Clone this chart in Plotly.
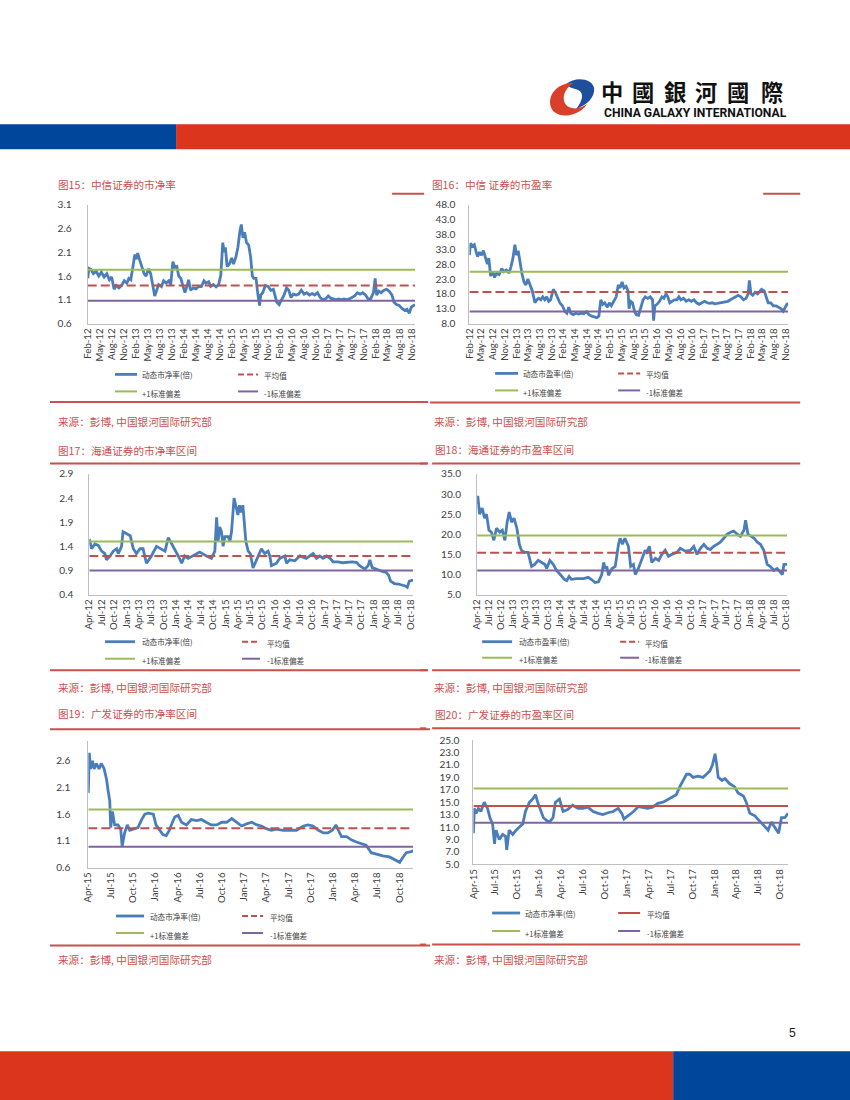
import plotly.graph_objects as go
import pandas as pd
import numpy as np

W, H = 850, 1100
# the photographed page shows the figure inset by ~6px and scaled by ~0.988; compensate
OFF, SC = 6.0, 0.988
def X(p): return ((p - OFF) / SC) / W
def Y(p): return 1 - ((p - OFF) / SC) / H
def F(s): return s / SC

# ---------------- DATA ----------------
# Fig15 CITIC Securities P/B
c15_dates = ["2012-02-01","2012-02-10","2012-02-25","2012-03-15","2012-04-05","2012-04-25","2012-05-15","2012-06-05","2012-06-25","2012-07-15","2012-08-01","2012-08-20","2012-09-05","2012-09-25","2012-10-15","2012-11-05","2012-11-25","2012-12-10","2012-12-25",
 "2013-01-10","2013-01-25","2013-02-05","2013-02-15","2013-03-01","2013-03-20","2013-04-05","2013-04-20","2013-05-10","2013-05-25","2013-06-10","2013-06-25","2013-07-10","2013-07-25","2013-08-15","2013-09-01","2013-09-20","2013-10-10","2013-10-25","2013-11-10","2013-11-25","2013-12-10","2013-12-25",
 "2014-01-10","2014-01-25","2014-02-10","2014-02-25","2014-03-10","2014-03-25","2014-04-15","2014-05-05","2014-05-25","2014-06-15","2014-07-05","2014-07-20","2014-08-10","2014-08-25","2014-09-15","2014-10-05","2014-10-25","2014-11-10","2014-11-25","2014-12-05","2014-12-15","2014-12-28",
 "2015-01-15","2015-02-01","2015-02-15","2015-03-05","2015-03-20","2015-04-05","2015-04-15","2015-04-28","2015-05-10","2015-05-25","2015-06-10","2015-06-25","2015-07-08","2015-07-20","2015-08-05","2015-08-20","2015-09-01","2015-09-10","2015-09-25","2015-10-15","2015-11-05","2015-11-25","2015-12-15",
 "2016-01-10","2016-01-28","2016-02-15","2016-03-05","2016-03-25","2016-04-10","2016-04-28","2016-05-15","2016-06-05","2016-06-25","2016-07-15","2016-08-05","2016-08-25","2016-09-15","2016-10-05","2016-10-25","2016-11-15","2016-12-05","2016-12-25",
 "2017-01-15","2017-02-05","2017-02-25","2017-03-15","2017-04-05","2017-04-25","2017-05-15","2017-06-05","2017-06-25","2017-07-15","2017-08-05","2017-08-25","2017-09-15","2017-10-05","2017-10-25","2017-11-15","2017-12-05","2017-12-25",
 "2018-01-15","2018-01-28","2018-02-08","2018-02-25","2018-03-15","2018-04-05","2018-04-25","2018-05-15","2018-06-05","2018-06-20","2018-07-10","2018-07-30","2018-08-20","2018-09-10","2018-09-28","2018-10-15","2018-10-30","2018-11-15","2018-11-28"]
c15_vals = [1.55,1.76,1.74,1.65,1.70,1.60,1.68,1.58,1.65,1.52,1.58,1.32,1.40,1.35,1.40,1.50,1.45,1.55,1.52,
 1.80,2.05,1.95,2.08,1.95,1.80,1.65,1.60,1.75,1.65,1.40,1.18,1.30,1.42,1.38,1.50,1.45,1.50,1.42,1.90,1.78,1.80,1.60,
 1.55,1.40,1.25,1.38,1.52,1.30,1.35,1.33,1.38,1.38,1.50,1.45,1.48,1.38,1.42,1.37,1.42,1.62,2.30,2.10,2.20,1.80,
 1.85,1.98,1.85,2.00,2.20,2.55,2.68,2.40,2.52,2.30,2.25,2.00,1.60,1.55,1.55,1.20,0.98,1.20,1.25,1.40,1.38,1.30,1.32,
 1.05,1.00,1.10,1.20,1.35,1.30,1.15,1.22,1.20,1.22,1.30,1.22,1.25,1.20,1.23,1.20,1.25,1.15,1.10,
 1.12,1.18,1.13,1.12,1.10,1.12,1.10,1.12,1.10,1.12,1.15,1.18,1.25,1.22,1.25,1.20,1.12,1.12,
 1.25,1.55,1.20,1.28,1.25,1.30,1.32,1.28,1.20,1.05,1.00,0.98,0.92,0.88,0.90,0.82,0.95,0.97,1.00]
c15_mean, c15_plus, c15_minus = 1.40, 1.73, 1.08
c15_ticks = ("2012-02-01", "2018-11-01")

# Fig16 CITIC Securities P/E
c16_dates = ["2012-02-01","2012-02-10","2012-02-25","2012-03-10","2012-03-25","2012-04-05","2012-04-20","2012-05-05","2012-05-20","2012-06-05","2012-06-20","2012-07-01","2012-07-15","2012-08-01","2012-08-15","2012-09-01","2012-09-20","2012-10-10","2012-10-25","2012-11-15","2012-12-05","2012-12-20",
 "2013-01-05","2013-01-20","2013-02-01","2013-02-15","2013-03-01","2013-03-15","2013-04-01","2013-04-15","2013-05-01","2013-05-20","2013-06-05","2013-06-25","2013-07-10","2013-07-25","2013-08-10","2013-08-25","2013-09-10","2013-09-25","2013-10-10","2013-10-25","2013-11-15","2013-12-01","2013-12-15",
 "2014-01-05","2014-01-25","2014-02-15","2014-03-01","2014-03-15","2014-04-01","2014-04-20","2014-05-10","2014-06-01","2014-06-20","2014-07-10","2014-08-01","2014-08-20","2014-09-10","2014-10-01","2014-10-20","2014-11-05","2014-11-20","2014-12-05","2014-12-20",
 "2015-01-10","2015-01-25","2015-02-10","2015-03-01","2015-03-20","2015-04-05","2015-04-20","2015-05-05","2015-05-20","2015-06-05","2015-06-20","2015-06-28","2015-07-10","2015-07-25","2015-08-10","2015-08-25","2015-09-10","2015-09-25","2015-10-15","2015-11-01","2015-11-20","2015-12-10","2015-12-28",
 "2016-01-05","2016-01-15","2016-02-01","2016-02-20","2016-03-10","2016-03-25","2016-04-10","2016-04-25","2016-05-10","2016-05-25","2016-06-15","2016-07-05","2016-07-20","2016-08-05","2016-08-25","2016-09-15","2016-10-05","2016-10-25","2016-11-15","2016-12-05","2016-12-25",
 "2017-01-15","2017-02-05","2017-02-25","2017-03-15","2017-04-05","2017-04-25","2017-05-15","2017-06-05","2017-06-25","2017-07-15","2017-08-05","2017-08-25","2017-09-15","2017-10-05","2017-10-25","2017-11-15","2017-12-05","2017-12-25",
 "2018-01-10","2018-01-20","2018-02-01","2018-02-15","2018-03-05","2018-03-25","2018-04-10","2018-04-25","2018-05-15","2018-06-01","2018-06-15","2018-07-05","2018-07-25","2018-08-15","2018-09-05","2018-09-25","2018-10-10","2018-10-25","2018-11-08","2018-11-18"]
c16_vals = [31.0,35.0,34.0,34.5,32.0,30.5,32.0,31.0,32.5,30.0,28.0,30.0,24.0,25.5,23.5,25.0,24.5,26.5,25.5,26.0,25.0,27.0,
 30.0,34.5,31.0,32.5,28.0,25.0,22.0,21.0,23.0,20.5,19.0,15.0,16.0,16.5,16.0,17.0,16.0,17.0,15.5,16.0,19.5,18.5,17.0,
 15.0,14.0,12.0,11.5,13.5,11.5,11.0,11.5,11.2,11.5,11.3,12.0,11.0,10.5,10.2,10.0,10.5,16.0,14.5,15.0,
 13.5,15.0,14.0,15.5,17.0,21.0,20.0,22.0,20.0,20.5,19.0,13.0,15.5,15.0,12.0,11.0,10.8,13.0,16.0,17.0,16.5,17.0,16.0,
 9.0,14.0,14.5,15.5,17.0,16.5,18.0,17.0,15.0,15.5,16.0,16.0,17.0,16.0,16.5,15.5,16.0,15.5,16.0,15.0,14.5,
 15.0,15.5,15.0,14.8,15.0,14.7,14.8,15.0,15.0,15.2,15.5,16.0,16.5,17.0,17.5,17.0,16.0,16.5,
 18.0,22.5,18.0,17.5,18.5,18.0,19.0,19.5,19.0,17.0,15.0,15.0,14.0,14.0,13.5,13.0,12.2,13.5,14.5,14.8]
c16_mean, c16_plus, c16_minus = 18.6, 25.4, 12.1
c16_ticks = ("2012-02-01", "2018-11-01")

# Fig17 Haitong Securities P/B
c17_dates = ["2012-04-01","2012-04-18","2012-05-12","2012-06-06","2012-07-01","2012-07-25","2012-08-06","2012-09-01","2012-09-25","2012-10-20","2012-11-01","2012-11-25","2012-12-06",
 "2013-01-02","2013-01-28","2013-02-20","2013-03-15","2013-04-10","2013-05-03","2013-05-15","2013-05-28","2013-06-15","2013-07-03","2013-08-10","2013-09-15","2013-10-12","2013-11-05","2013-12-01","2013-12-25",
 "2014-01-18","2014-02-12","2014-03-06","2014-04-01","2014-05-06","2014-06-25","2014-08-15","2014-09-20","2014-10-15","2014-10-28","2014-11-08","2014-11-20","2014-12-03","2014-12-15","2014-12-28",
 "2015-01-22","2015-02-03","2015-02-15","2015-03-06","2015-03-22","2015-04-03","2015-04-15","2015-04-28","2015-05-10","2015-06-01","2015-06-18","2015-07-04","2015-07-24","2015-08-18","2015-09-24","2015-10-18","2015-11-12","2015-11-25","2015-12-07",
 "2016-01-13","2016-02-06","2016-03-15","2016-03-27","2016-04-20","2016-05-28","2016-07-03","2016-08-20","2016-10-10","2016-11-03","2016-11-28","2016-12-22",
 "2017-01-18","2017-02-12","2017-03-06","2017-04-10","2017-05-15","2017-06-20","2017-07-25","2017-08-25","2017-09-18","2017-10-15","2017-10-28","2017-11-20","2017-12-03","2017-12-20",
 "2018-01-15","2018-02-10","2018-03-05","2018-04-03","2018-04-20","2018-05-05","2018-06-01","2018-07-01","2018-07-25","2018-08-20","2018-09-05","2018-09-20","2018-10-18"]
c17_vals = [1.55,1.35,1.45,1.42,1.30,1.25,1.12,1.20,1.30,1.35,1.25,1.40,1.70,
 1.65,1.62,1.35,1.25,1.35,1.35,1.20,1.05,1.12,1.20,1.40,1.35,1.30,1.58,1.45,1.30,
 1.20,1.05,1.20,1.15,1.20,1.28,1.20,1.15,1.30,2.00,1.50,1.80,1.70,1.40,1.60,
 1.60,1.50,1.70,2.40,2.20,2.05,2.25,2.10,2.25,1.50,1.30,1.25,0.95,1.10,1.35,1.25,1.30,1.20,1.00,
 1.05,1.15,1.20,1.05,1.12,1.10,1.20,1.15,1.25,1.15,1.20,1.15,
 1.20,1.15,1.08,1.08,1.06,1.07,1.08,1.07,1.00,0.95,0.93,1.00,1.12,0.96,
 0.93,0.90,0.88,0.86,0.80,0.68,0.63,0.62,0.60,0.58,0.55,0.68,0.70]
c17_mean, c17_plus, c17_minus = 1.20, 1.50, 0.90
c17_ticks = ("2012-04-01", "2018-10-01")

# Fig18 Haitong Securities P/E
c18_dates = ["2012-04-01","2012-04-06","2012-04-20","2012-05-10","2012-05-28","2012-06-12","2012-07-01","2012-07-20","2012-08-08","2012-08-28","2012-09-22","2012-10-12","2012-11-01","2012-11-18","2012-12-04","2012-12-22",
 "2013-01-10","2013-02-01","2013-02-20","2013-03-08","2013-04-03","2013-04-28","2013-05-25","2013-06-18","2013-07-15","2013-08-10","2013-09-05","2013-09-18","2013-10-13","2013-11-08","2013-12-03",
 "2014-01-01","2014-02-01","2014-02-20","2014-03-10","2014-03-28","2014-05-06","2014-06-28","2014-08-04","2014-09-01","2014-09-25","2014-10-22","2014-11-16","2014-12-01","2014-12-12","2014-12-25",
 "2015-01-07","2015-02-03","2015-02-28","2015-03-25","2015-04-06","2015-04-24","2015-05-13","2015-06-09","2015-06-27","2015-07-18","2015-08-01","2015-08-25","2015-09-20","2015-10-16","2015-10-28","2015-11-18","2015-12-06",
 "2016-01-03","2016-01-28","2016-02-22","2016-03-18","2016-04-13","2016-05-08","2016-06-16","2016-07-12","2016-08-20","2016-09-28","2016-10-24","2016-11-18","2016-12-15",
 "2017-01-10","2017-02-05","2017-03-01","2017-03-26","2017-04-22","2017-05-16","2017-06-12","2017-07-07","2017-08-03","2017-08-28","2017-09-24","2017-10-18","2017-11-14","2017-11-27","2017-12-15",
 "2018-01-04","2018-02-01","2018-02-25","2018-03-21","2018-04-16","2018-05-12","2018-06-06","2018-07-03","2018-07-28","2018-08-24","2018-09-06","2018-09-18","2018-10-13"]
c18_vals = [27.5,29.5,25.0,26.5,24.0,25.0,21.0,20.5,18.5,21.5,20.5,21.0,18.5,23.0,25.5,23.0,
 24.0,21.5,17.5,16.0,15.5,15.5,12.0,12.5,13.5,13.0,12.5,11.5,13.5,12.5,11.0,
 10.0,8.8,8.5,9.5,8.8,9.0,9.0,9.3,8.7,8.0,8.2,10.0,13.0,11.5,12.0,
 9.8,11.5,12.0,17.5,19.0,17.5,19.0,17.0,12.0,12.5,10.0,11.5,14.0,16.0,15.5,17.0,13.0,
 14.0,13.5,15.0,16.0,14.5,15.0,15.5,16.5,15.8,16.0,17.0,15.0,16.5,
 17.5,16.5,16.2,17.0,17.5,18.0,19.0,20.0,20.5,20.8,20.0,19.5,21.0,23.5,20.0,
 19.5,19.0,18.0,17.5,16.0,12.5,12.0,11.0,11.5,10.5,10.0,12.5,12.5]
c18_mean, c18_plus, c18_minus = 15.4, 19.7, 11.0
c18_ticks = ("2012-04-01", "2018-10-01")

# Fig19 GF Securities P/B
c19_dates = ["2015-04-01","2015-04-05","2015-04-10","2015-04-18","2015-04-25","2015-05-04","2015-05-15","2015-05-24","2015-06-05","2015-06-15","2015-06-21","2015-06-28","2015-07-02","2015-07-09","2015-07-18","2015-08-01","2015-08-12","2015-08-18","2015-08-28","2015-09-08","2015-09-18","2015-10-09","2015-10-22","2015-11-06","2015-11-19","2015-12-03","2015-12-24",
 "2016-01-04","2016-01-18","2016-02-01","2016-02-15","2016-02-28","2016-03-07","2016-03-21","2016-04-04","2016-04-18","2016-05-08","2016-05-28","2016-06-18","2016-07-09","2016-07-28","2016-08-18","2016-09-09","2016-10-01","2016-10-20","2016-11-10","2016-12-01","2016-12-21",
 "2017-01-10","2017-02-01","2017-02-21","2017-03-12","2017-04-01","2017-04-22","2017-05-13","2017-06-09","2017-07-06","2017-08-03","2017-09-01","2017-09-19","2017-10-10","2017-11-01","2017-11-22","2017-12-10","2017-12-28",
 "2018-01-12","2018-01-22","2018-02-04","2018-02-25","2018-03-16","2018-04-06","2018-04-25","2018-05-16","2018-06-06","2018-06-27","2018-07-24","2018-08-20","2018-09-10","2018-10-01","2018-10-15","2018-10-28","2018-11-18","2018-11-25"]
c19_vals = [2.00,2.75,2.45,2.60,2.45,2.55,2.45,2.55,2.45,2.25,2.05,1.85,1.35,1.65,1.40,1.40,1.32,1.00,1.25,1.40,1.30,1.33,1.35,1.50,1.60,1.62,1.60,
 1.40,1.30,1.22,1.20,1.30,1.40,1.55,1.58,1.45,1.40,1.50,1.48,1.50,1.45,1.40,1.40,1.45,1.45,1.52,1.45,1.38,
 1.42,1.45,1.40,1.38,1.33,1.30,1.32,1.30,1.30,1.30,1.38,1.40,1.38,1.30,1.25,1.25,1.30,
 1.40,1.30,1.18,1.18,1.12,1.08,1.05,1.02,0.88,0.85,0.82,0.80,0.75,0.70,0.80,0.88,0.90,0.92]
c19_mean, c19_plus, c19_minus = 1.34, 1.69, 0.99
c19_ticks = ("2015-04-01", "2018-10-01")

# Fig20 GF Securities P/E
c20_dates = ["2015-04-01","2015-04-05","2015-04-12","2015-04-22","2015-05-02","2015-05-16","2015-05-30","2015-06-09","2015-06-20","2015-06-28","2015-07-04","2015-07-18","2015-08-01","2015-08-13","2015-08-18","2015-08-28","2015-09-12","2015-09-26","2015-10-10","2015-10-24","2015-11-04","2015-11-21","2015-12-04","2015-12-16","2015-12-25",
 "2016-01-04","2016-01-18","2016-02-02","2016-02-13","2016-02-27","2016-03-08","2016-03-25","2016-04-09","2016-04-28","2016-05-19","2016-06-10","2016-07-01","2016-07-22","2016-08-12","2016-09-03","2016-09-22","2016-10-13","2016-11-04","2016-11-25","2016-12-10","2016-12-19",
 "2017-01-06","2017-01-28","2017-02-17","2017-03-07","2017-03-28","2017-04-18","2017-05-09","2017-05-31","2017-06-21","2017-07-12","2017-07-25","2017-08-09","2017-08-22","2017-09-06","2017-09-19","2017-10-03","2017-10-24","2017-11-14","2017-11-28","2017-12-12","2017-12-23",
 "2018-01-03","2018-01-10","2018-01-16","2018-02-01","2018-02-13","2018-03-04","2018-03-25","2018-04-09","2018-05-01","2018-05-13","2018-05-28","2018-06-18","2018-07-08","2018-07-28","2018-08-12","2018-08-26","2018-09-10","2018-09-25","2018-10-07","2018-10-21","2018-11-04"]
c20_vals = [10.0,14.0,13.2,14.0,13.5,15.0,14.0,12.5,11.5,8.3,10.5,9.0,9.8,9.5,7.3,10.5,9.8,10.5,11.0,11.5,13.5,15.0,15.5,16.2,15.0,
 13.8,12.5,12.0,11.8,12.5,15.0,15.5,13.5,13.8,14.5,14.0,14.0,14.2,13.5,13.2,13.0,13.3,13.5,14.0,13.2,12.3,
 12.8,13.5,14.3,14.2,14.0,14.2,14.8,15.0,15.5,16.0,16.2,17.5,18.5,19.5,19.5,19.0,19.2,19.0,19.5,20.0,21.0,
 22.8,21.0,19.0,18.5,18.8,18.0,17.5,16.5,16.0,15.0,13.2,12.8,12.0,11.2,10.5,11.8,11.0,10.0,12.5,12.5,13.2]
c20_mean, c20_plus, c20_minus = 14.4, 17.2, 11.7
c20_ticks = ("2015-04-01", "2018-10-01")

titles = ["图15：中信证券的市净率", "图16：中信 证券的市盈率", "图17：海通证券的市净率区间",
          "图18：海通证券的市盈率区间", "图19：广发证券的市净率区间", "图20：广发证券的市盈率区间"]
series_names = ["动态市净率(倍)", "动态市盈率(倍)", "动态市净率(倍)", "动态市盈率(倍)", "动态市净率(倍)", "动态市净率(倍)"]
legend_other = ["平均值", "+1标准偏差", "-1标准偏差"]
source_text = "来源：彭博, 中国银河国际研究部"

# ---------------- STYLE / LAYOUT ----------------
BLUE, RED, GREEN, PURPLE = "#4a7ebb", "#c0504d", "#9bbb59", "#8064a2"
AX = "#bfbfbf"
TXT = "#404040"
TRED = "#cc4f4f"
LRED = "#c9514c"
NUM_FONT = "Lato, Open Sans, sans-serif"
CJK = "Noto Sans CJK SC"

charts = [
    dict(d=c15_dates, v=c15_vals, m=c15_mean, p=c15_plus, n=c15_minus, tk=c15_ticks, yr=[0.6, 3.1], t0=0.6, dt=0.5,
         xd=(87.7, 415), yd=(204.3, 323.3), st=13, dash=True,
         leg=dict(s1=(115, 137), s2=(238, 258), t1=140, t2=262, r1=374, r2=391)),
    dict(d=c16_dates, v=c16_vals, m=c16_mean, p=c16_plus, n=c16_minus, tk=c16_ticks, yr=[8, 48], t0=8, dt=5,
         xd=(469.3, 788), yd=(204.3, 323.3), st=11, dash=True,
         leg=dict(s1=(495, 518), s2=(618, 640), t1=521, t2=644, r1=373, r2=390)),
    dict(d=c17_dates, v=c17_vals, m=c17_mean, p=c17_plus, n=c17_minus, tk=c17_ticks, yr=[0.4, 2.9], t0=0.4, dt=0.5,
         xd=(89.3, 413), yd=(473.3, 594), st=13, dash=True,
         leg=dict(s1=(105, 135), s2=(242, 260), t1=140, t2=265, r1=641, r2=658)),
    dict(d=c18_dates, v=c18_vals, m=c18_mean, p=c18_plus, n=c18_minus, tk=c18_ticks, yr=[5, 35], t0=5, dt=5,
         xd=(477, 787), yd=(473.3, 594), st=13, dash=True,
         leg=dict(s1=(482, 512), s2=(620, 639), t1=517, t2=643, r1=641, r2=657)),
    dict(d=c19_dates, v=c19_vals, m=c19_mean, p=c19_plus, n=c19_minus, tk=c19_ticks, yr=[0.6, 2.975], t0=0.6, dt=0.5,
         xd=(88.3, 413), yd=(740, 866.7), st=15, dash=True,
         leg=dict(s1=(116, 144), s2=(242, 263), t1=148, t2=268, r1=915, r2=932)),
    dict(d=c20_dates, v=c20_vals, m=c20_mean, p=c20_plus, n=c20_minus, tk=c20_ticks, yr=[5, 25], t0=5, dt=2,
         xd=(473.3, 788), yd=(739.3, 863.3), st=11, dash=False,
         leg=dict(s1=(492, 520), s2=(618, 640), t1=523, t2=645, r1=912, r2=930)),
]

fig = go.Figure()
layout_axes = {}
shapes = []
annotations = []

def hline(x0, x1, y, color, width=2, dash="solid"):
    shapes.append(dict(type="line", xref="paper", yref="paper", x0=X(x0), x1=X(x1), y0=Y(y), y1=Y(y),
                       line=dict(color=color, width=width, dash=dash)))

def text(x, y, s, size, color, family=CJK, anchor="left", bold=False):
    if bold:
        s = "<b>" + s + "</b>"
    annotations.append(dict(xref="paper", yref="paper", x=X(x), y=Y(y), text=s, showarrow=False,
                            xanchor=anchor, yanchor="middle", font=dict(size=F(size), color=color, family=family)))

for i, c in enumerate(charts, 1):
    xa = "x" if i == 1 else f"x{i}"
    ya = "y" if i == 1 else f"y{i}"
    dates = pd.to_datetime(c["d"])
    assert len(dates) == len(c["v"]), (i, len(dates), len(c["v"]))
    x0, x1 = dates.min(), dates.max()
    fig.add_trace(go.Scatter(x=dates, y=c["v"], mode="lines", line=dict(color=BLUE, width=2.8),
                             xaxis=xa, yaxis=ya, showlegend=False, hoverinfo="skip"))
    for val, col, ds in [(c["m"], RED, "9px,4px" if c["dash"] else "solid"),
                         (c["p"], GREEN, "solid"), (c["n"], PURPLE, "solid")]:
        fig.add_trace(go.Scatter(x=[x0, x1], y=[val, val], mode="lines", line=dict(color=col, width=2, dash=ds),
                                 xaxis=xa, yaxis=ya, showlegend=False, hoverinfo="skip"))
    tickvals = pd.date_range(c["tk"][0], c["tk"][1], freq="3MS")
    ytv = [round(v, 3) for v in np.arange(c["t0"], c["yr"][1] + 1e-9, c["dt"])]
    layout_axes["xaxis" if i == 1 else f"xaxis{i}"] = dict(
        domain=[X(c["xd"][0]), X(c["xd"][1])], anchor=ya, type="date", range=[x0, x1],
        tickmode="array", tickvals=tickvals, tickformat="%b-%y", tickangle=-90,
        showline=True, linecolor=AX, linewidth=1, showgrid=False, zeroline=False, ticks="",
        tickfont=dict(family=NUM_FONT, size=F(9.5), color=TXT))
    layout_axes["yaxis" if i == 1 else f"yaxis{i}"] = dict(
        domain=[Y(c["yd"][1]), Y(c["yd"][0])], anchor=xa, range=[c["yr"][0], c["yr"][1] + 1e-4],
        tickmode="array", tickvals=ytv,
        tickformat=".1f", showline=True, linecolor=AX, linewidth=1, showgrid=False, zeroline=False,
        ticks="", ticklabelstandoff=c["st"], tickfont=dict(family=NUM_FONT, size=F(10), color=TXT))
    # legend (manual 2x2)
    lg = c["leg"]
    hline(lg["s1"][0], lg["s1"][1], lg["r1"], BLUE, 2.8)
    hline(lg["s2"][0], lg["s2"][1], lg["r1"], RED, 2, "6px,3px" if c["dash"] else "solid")
    hline(lg["s1"][0], lg["s1"][1], lg["r2"], GREEN, 2)
    hline(lg["s2"][0], lg["s2"][1], lg["r2"], PURPLE, 2)
    text(lg["t1"], lg["r1"], series_names[i - 1], 7.5, TXT)
    text(lg["t2"], lg["r1"] + 1.5, legend_other[0], 7.5, TXT)
    text(lg["t1"], lg["r2"] + 2, legend_other[1], 7.5, TXT)
    text(lg["t2"], lg["r2"] + 2, legend_other[2], 7.5, TXT)

# titles & sources
title_pos = [(56, 184), (430, 184), (56, 450), (433, 449.5), (56, 713), (433, 713.5)]
for (tx, ty), t in zip(title_pos, titles):
    text(tx, ty, t, 10.5, TRED)
for (sx, sy) in [(56, 421), (432, 421), (56, 687), (432, 687), (56, 958.5), (432, 958.5)]:
    text(sx, sy, source_text, 10.5, TRED)

# separator lines
for (a, b, y) in [(392, 424, 193.5), (763, 800, 193.5),
                  (50, 428, 401.5), (430, 800, 402),
                  (50, 428, 463), (420, 427, 463), (432, 800, 463),
                  (50, 428, 669.5), (420, 427, 669.5), (432, 800, 669.5),
                  (50, 430, 728.5), (420, 426, 727.5), (432, 800, 727.5),
                  (50, 430, 944.5), (420, 426, 943.5), (432, 800, 943.5)]:
    hline(a, b, y, LRED, 2)

# header / footer bars
def rect(x0, y0, x1, y1, color):
    shapes.append(dict(type="rect", xref="paper", yref="paper", x0=X(x0), x1=X(x1), y0=Y(y1), y1=Y(y0),
                       line=dict(width=0), fillcolor=color, layer="below"))
rect(0, 124, 176, 149, "#00469a")
rect(176, 124, 860, 149, "#dc351e")
rect(0, 1050, 673, 1110, "#dc351e")
rect(673, 1050, 860, 1110, "#00469a")

# logo
def path(cmds, color):
    parts = []
    for cmd in cmds:
        letter, pts = cmd[0], cmd[1:]
        coords = []
        for k in range(0, len(pts), 2):
            coords.append(f"{X(pts[k]):.5f},{Y(pts[k+1]):.5f}")
        parts.append(letter + " " + " ".join(coords))
    shapes.append(dict(type="path", xref="paper", yref="paper", path=" ".join(parts) + " Z",
                       fillcolor=color, line=dict(width=0)))
path([("M", 566, 84), ("C", 575, 76, 592, 78, 594, 88), ("C", 595, 97, 587, 105, 576, 109),
      ("C", 583, 100, 584, 93, 578, 90), ("C", 573, 88, 569, 88, 566, 84)], "#1f4e9c")
path([("M", 573, 83), ("C", 558, 83, 549, 93, 550, 104), ("C", 551, 113, 560, 117, 570, 115),
      ("C", 578, 113, 584, 109, 587, 104), ("C", 580, 109, 571, 110, 566, 105), ("C", 561, 99, 564, 89, 573, 83)], "#d9402b")
for cx, ch in zip([612, 643, 675, 706, 738, 772], "中國銀河國際"):
    text(cx, 91, ch, 22, "#111111", family=CJK, anchor="center", bold=True)
text(695, 113, "CHINA GALAXY INTERNATIONAL", 12, "#111111",
     family="Liberation Sans Narrow, Arial Narrow, Roboto, sans-serif", anchor="center", bold=True)

# page number
text(792, 1032, "5", 12, "#222222", family="Liberation Sans, sans-serif", anchor="center")

fig.update_layout(width=W, height=H, autosize=False, margin=dict(l=0, r=0, t=0, b=0),
                  paper_bgcolor="white", plot_bgcolor="white", showlegend=False,
                  shapes=shapes, annotations=annotations, **layout_axes)

css_fix = ("var s=document.createElement('style');"
           "s.innerHTML='html,body{margin:0!important;padding:0!important;overflow:hidden!important;"
           "width:850px!important;height:1100px!important;}body>div{line-height:0;height:1100px;overflow:hidden;}';"
           "document.head.appendChild(s);")
fig.write_html("out.html", config={"displayModeBar": False}, post_script=css_fix)
